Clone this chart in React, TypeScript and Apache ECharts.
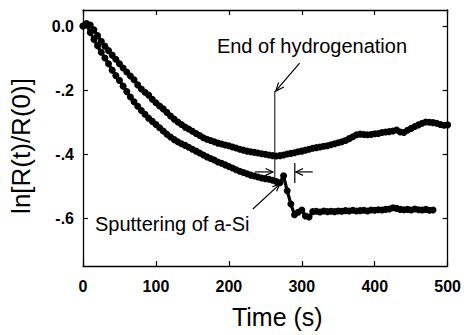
import React, { useEffect, useRef } from "react";
import * as echarts from "echarts";

// ---- Data ----
const timeUpper = [
  0, 5, 10, 15, 20, 25, 30, 35, 40, 45, 50, 55, 60, 65, 70, 75, 80, 85, 90, 95,
  100, 105, 110, 115, 120, 125, 130, 135, 140, 145, 150, 155, 160, 165, 170, 175, 180, 185, 190, 195,
  200, 205, 210, 215, 220, 225, 230, 235, 240, 245, 250, 255, 260, 265, 270, 275, 280, 285, 290, 295,
  300, 305, 310, 315, 320, 325, 330, 335, 340, 345, 350, 355, 360, 365, 370, 375, 380, 385, 390, 395,
  400, 405, 410, 415, 420, 425, 430, 435, 440, 445, 450, 455, 460, 465, 470, 475, 480, 485, 490, 495, 500,
];
const lnUpper = [
  0.0, 0.008, 0.003, -0.012, -0.03, -0.048, -0.063, -0.077, -0.091, -0.104,
  -0.118, -0.131, -0.144, -0.156, -0.168, -0.184, -0.197, -0.207, -0.216, -0.229,
  -0.24, -0.25, -0.259, -0.27, -0.281, -0.291, -0.3, -0.308, -0.316, -0.322,
  -0.329, -0.336, -0.342, -0.349, -0.354, -0.358, -0.362, -0.366, -0.369, -0.372,
  -0.374, -0.378, -0.381, -0.385, -0.388, -0.391, -0.393, -0.395, -0.397, -0.399,
  -0.401, -0.403, -0.405, -0.406, -0.405, -0.403, -0.4, -0.398, -0.396, -0.393,
  -0.391, -0.388, -0.385, -0.382, -0.38, -0.378, -0.376, -0.374, -0.371, -0.368,
  -0.365, -0.362, -0.358, -0.352, -0.346, -0.34, -0.338, -0.339, -0.34, -0.339,
  -0.337, -0.336, -0.333, -0.331, -0.33, -0.328, -0.325, -0.331, -0.333, -0.326,
  -0.32, -0.314, -0.309, -0.304, -0.3, -0.301, -0.302, -0.304, -0.308, -0.31, -0.309,
];

const timeLower = [
  0, 5, 10, 15, 20, 25, 30, 35, 40, 45, 50, 55, 60, 65, 70, 75, 80, 85, 90, 95,
  100, 105, 110, 115, 120, 125, 130, 135, 140, 145, 150, 155, 160, 165, 170, 175, 180, 185, 190, 195,
  200, 205, 210, 215, 220, 225, 230, 235, 240, 245, 250, 255, 260, 265, 270, 275, 280, 285, 290, 295,
  300, 305, 310, 315, 320, 325, 330, 335, 340, 345, 350, 355, 360, 365, 370, 375, 380, 385, 390, 395,
  400, 405, 410, 415, 420, 425, 430, 435, 440, 445, 450, 455, 460, 465, 470, 475, 480,
];
const lnLower = [
  0.0, 0.003, -0.02, -0.042, -0.062, -0.082, -0.1, -0.118, -0.138, -0.155,
  -0.17, -0.188, -0.205, -0.222, -0.237, -0.251, -0.264, -0.276, -0.288, -0.298,
  -0.308, -0.318, -0.328, -0.338, -0.347, -0.355, -0.362, -0.368, -0.373, -0.379,
  -0.385, -0.391, -0.397, -0.403, -0.409, -0.414, -0.419, -0.425, -0.429, -0.434,
  -0.439, -0.444, -0.449, -0.454, -0.458, -0.462, -0.466, -0.469, -0.472, -0.475,
  -0.477, -0.479, -0.482, -0.486, -0.49, -0.468, -0.515, -0.556, -0.59, -0.582,
  -0.575, -0.594, -0.597, -0.58, -0.579, -0.581, -0.578, -0.58, -0.579, -0.58,
  -0.578, -0.579, -0.577, -0.578, -0.576, -0.578, -0.577, -0.576, -0.578, -0.575,
  -0.576, -0.574, -0.575, -0.573, -0.572, -0.568, -0.57, -0.573, -0.574, -0.573,
  -0.575, -0.572, -0.574, -0.575, -0.573, -0.576, -0.575,
];

const xTicks = [0, 100, 200, 300, 400, 500];
const yTicks = [0, -0.2, -0.4, -0.6];
const yTickLabels = ["0.0", "-.2", "-.4", "-.6"];

const FONT = '"Liberation Sans", Arial, Helvetica, sans-serif';

function arrow(p1: number[], p2: number[], head = 8, spread = 0.42, lw = 1.2) {
  const ang = Math.atan2(p2[1] - p1[1], p2[0] - p1[0]);
  const a1 = ang + Math.PI - spread;
  const a2 = ang + Math.PI + spread;
  const h1 = [p2[0] + head * Math.cos(a1), p2[1] + head * Math.sin(a1)];
  const h2 = [p2[0] + head * Math.cos(a2), p2[1] + head * Math.sin(a2)];
  return [
    { type: "line", silent: true, shape: { x1: p1[0], y1: p1[1], x2: p2[0], y2: p2[1] }, style: { stroke: "#000", lineWidth: lw } },
    { type: "polyline", silent: true, shape: { points: [h1, p2, h2] }, style: { stroke: "#000", fill: "none", lineWidth: lw } },
  ];
}

export default function App() {
  const ref = useRef<HTMLDivElement>(null);

  useEffect(() => {
    if (!ref.current) return;
    const chart = echarts.init(ref.current, undefined, { renderer: "svg" });

    const axisLine = { show: true, onZero: false, lineStyle: { color: "#000", width: 1.3 } };
    const tick = { show: true, inside: true, length: 5, lineStyle: { color: "#000", width: 1.2 } };

    const seriesStyle = {
      type: "line" as const,
      symbol: "circle",
      symbolSize: 7,
      showAllSymbol: true,
      showSymbol: true,
      itemStyle: { color: "#000" },
      lineStyle: { color: "#000", width: 3.2 },
      silent: true,
    };

    chart.setOption({
      animation: false,
      backgroundColor: "#fff",
      grid: { left: 83, right: 16, top: 10, bottom: 69, containLabel: false },
      xAxis: [
        {
          type: "value",
          min: 0,
          max: 500,
          interval: 100,
          position: "bottom",
          axisLine,
          axisTick: tick,
          splitLine: { show: false },
          axisLabel: { color: "#000", fontSize: 16, fontWeight: "bold", fontFamily: FONT, margin: 12 },
          name: "Time (s)",
          nameLocation: "middle",
          nameGap: 38,
          nameTextStyle: { color: "#000", fontSize: 25, fontFamily: FONT, padding: [0, 0, 0, 24] },
        },
        {
          type: "value",
          min: 0,
          max: 500,
          interval: 100,
          position: "top",
          axisLine,
          axisTick: tick,
          splitLine: { show: false },
          axisLabel: { show: false },
        },
      ],
      yAxis: [
        {
          type: "value",
          min: -0.75,
          max: 0.05,
          position: "left",
          axisLine,
          axisTick: { ...tick, customValues: yTicks },
          splitLine: { show: false },
          axisLabel: {
            customValues: yTicks,
            color: "#000",
            fontSize: 16,
            fontWeight: "bold",
            fontFamily: FONT,
            margin: 9,
            formatter: (v: number) => {
              const i = yTicks.findIndex((t) => Math.abs(t - v) < 1e-9);
              return i >= 0 ? yTickLabels[i] : "";
            },
          },
          name: "ln[R(t)/R(0)]",
          nameLocation: "middle",
          nameGap: 49,
          nameTextStyle: { color: "#000", fontSize: 26, fontFamily: FONT, padding: [0, 16, 0, 0] },
        },
        {
          type: "value",
          min: -0.75,
          max: 0.05,
          position: "right",
          axisLine,
          axisTick: { ...tick, customValues: yTicks },
          splitLine: { show: false },
          axisLabel: { show: false, customValues: yTicks },
        },
      ],
      series: [
        { ...seriesStyle, name: "upper", xAxisIndex: 0, yAxisIndex: 0, data: timeUpper.map((t, i) => [t, lnUpper[i]]) },
        { ...seriesStyle, name: "lower", xAxisIndex: 0, yAxisIndex: 0, data: timeLower.map((t, i) => [t, lnLower[i]]) },
      ],
    });

    // ---- Annotations, anchored in data coordinates ----
    const px = (t: number, v: number) => chart.convertToPixel({ gridIndex: 0 }, [t, v]) as number[];
    const endText = px(183.6, -0.0625);
    const hydStart = px(297, -0.116);
    const hydTip = px(264.4, -0.203);
    const vTop = px(263, -0.203);
    const vBot = px(263, -0.475);
    const lArrowStart = px(235.6, -0.456);
    const lArrowTip = px(260.3, -0.456);
    const barTop = px(290.4, -0.428);
    const barBot = px(290.4, -0.491);
    const rArrowStart = px(315, -0.456);
    const rArrowTip = px(291.8, -0.456);
    const spStart = px(232.9, -0.572);
    const spTip = px(269.9, -0.494);
    const spText = px(16.4, -0.619);

    const graphic: any[] = [
      {
        type: "text",
        x: endText[0],
        y: endText[1],
        silent: true,
        style: { text: "End of hydrogenation", fill: "#000", fontSize: 20, fontFamily: FONT, align: "left", verticalAlign: "middle" },
      },
      {
        type: "text",
        x: spText[0],
        y: spText[1],
        silent: true,
        style: { text: "Sputtering of a-Si", fill: "#000", fontSize: 20, fontFamily: FONT, align: "left", verticalAlign: "middle" },
      },
      ...arrow(hydStart, hydTip, 9, 0.4, 1.2),
      { type: "line", silent: true, shape: { x1: vTop[0], y1: vTop[1], x2: vBot[0], y2: vBot[1] }, style: { stroke: "#000", lineWidth: 1 } },
      ...arrow(lArrowStart, lArrowTip, 8, 0.45, 1.2),
      { type: "line", silent: true, shape: { x1: barTop[0], y1: barTop[1], x2: barBot[0], y2: barBot[1] }, style: { stroke: "#000", lineWidth: 1.2 } },
      ...arrow(rArrowStart, rArrowTip, 8, 0.45, 1.2),
      ...arrow(spStart, spTip, 8, 0.4, 1.2),
    ];
    chart.setOption({ graphic });

    return () => chart.dispose();
  }, []);

  return (
    <div
      ref={ref}
      style={{ position: "fixed", left: 0, top: 0, width: 464, height: 335, background: "#fff" }}
    />
  );
}
